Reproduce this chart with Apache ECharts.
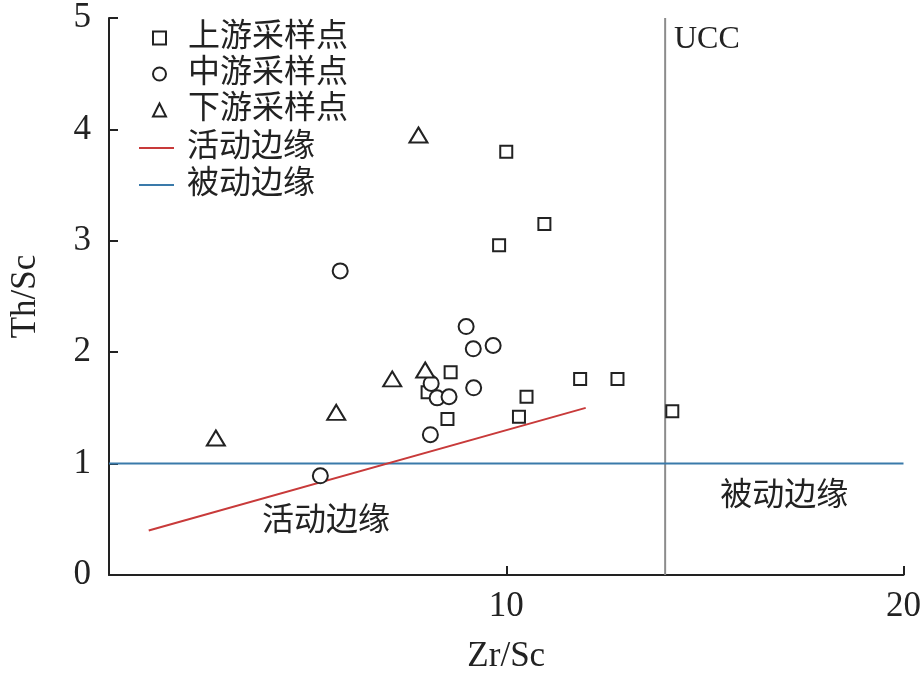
<!DOCTYPE html>
<html>
<head>
<meta charset="utf-8">
<script src="https://cdn.jsdelivr.net/npm/echarts@6/dist/echarts.min.js"></script>
<style>
  html, body { margin: 0; padding: 0; background: #fff; }
  #chart { width: 924px; height: 681px; }
</style>
</head>
<body>
<div id="chart"></div>
<script>
// 采样点数据 [Zr/Sc, Th/Sc]
const upstream = [
  [10.0, 3.80], [10.96, 3.15], [9.82, 2.96], [8.6, 1.82], [8.02, 1.64],
  [10.51, 1.60], [8.52, 1.40], [10.32, 1.42], [11.86, 1.76], [12.8, 1.76], [14.18, 1.47]
];
const midstream = [
  [5.82, 2.73], [8.99, 2.23], [9.17, 2.03], [9.67, 2.06], [8.11, 1.72],
  [8.26, 1.59], [8.56, 1.60], [9.18, 1.68], [8.09, 1.26], [5.32, 0.89]
];
const downstream = [
  [7.79, 3.95], [7.13, 1.76], [7.96, 1.84], [5.72, 1.46], [2.69, 1.23]
];
// 判别线
const activeLine = [[1, 0.4], [12, 1.5]];
const passiveLine = [[0, 1], [20, 1]];
const uccLine = [[14, 0], [14, 5]];
// 图中文字标注
const notes = [
  { name: "UCC", value: [15.05, 4.81] },
  { name: "活动边缘", value: [5.46, 0.48] },
  { name: "被动边缘", value: [17.0, 0.70] }
];
const pointNames = ["上游采样点", "中游采样点", "下游采样点"];
const lineNames = ["活动边缘", "被动边缘"];

const font = "'Liberation Serif', 'Noto Sans CJK SC', serif";
const ink = "#222";

const chart = echarts.init(document.getElementById("chart"));

const scatterStyle = {
  color: "#fff",
  borderColor: ink,
  borderWidth: 2,
  opacity: 1,
};

const legendText = {
  fontFamily: font,
  fontSize: 32,
  color: ink,
};

const option = {
  animation: false,
  grid: { left: 107, right: 17, top: 18, bottom: 106, containLabel: false },
  legend: [
    {
      // 采样点图例
      data: pointNames,
      orient: "vertical",
      left: 152,
      top: 22,
      padding: 0,
      itemGap: 4,
      itemWidth: 13,
      itemHeight: 13,
      itemStyle: { borderWidth: 2, opacity: 1 },
      textStyle: Object.assign({ padding: [0, 0, 0, 17] }, legendText),
    },
    {
      // 判别线图例
      data: lineNames.map((n) => ({ name: n, icon: "rect" })),
      orient: "vertical",
      left: 139,
      top: 132,
      padding: 0,
      itemGap: 5,
      itemWidth: 35,
      itemHeight: 2,
      textStyle: Object.assign({ padding: [0, 0, 0, 8] }, legendText),
    },
  ],
  xAxis: {
    type: "value",
    min: 0,
    max: 20,
    interval: 10,
    name: "Zr/Sc",
    nameLocation: "middle",
    nameGap: 64,
    nameTextStyle: { fontFamily: font, fontSize: 35, color: ink },
    axisLine: { lineStyle: { color: ink, width: 2 } },
    axisTick: { inside: true, length: 9, lineStyle: { color: ink, width: 2 } },
    axisLabel: {
      fontFamily: font,
      fontSize: 35,
      color: ink,
      margin: 14,
      formatter: (v) => (v === 0 ? "" : v),
    },
    splitLine: { show: false },
  },
  yAxis: {
    type: "value",
    min: 0,
    max: 5,
    interval: 1,
    name: "Th/Sc",
    nameLocation: "middle",
    nameGap: 66,
    nameTextStyle: { fontFamily: font, fontSize: 35, color: ink },
    axisLine: { show: true, lineStyle: { color: ink, width: 2 } },
    axisTick: { show: true, inside: true, length: 9, lineStyle: { color: ink, width: 2 } },
    axisLabel: { fontFamily: font, fontSize: 35, color: ink, margin: 18 },
    splitLine: { show: false },
  },
  series: [
    {
      name: "UCC",
      type: "line",
      data: uccLine,
      symbol: "none",
      lineStyle: { color: "#8c8c8c", width: 2 },
      z: 1,
    },
    {
      name: "被动边缘",
      type: "line",
      data: passiveLine,
      symbol: "none",
      color: "#3a7aaa",
      lineStyle: { color: "#3a7aaa", width: 2 },
      z: 1,
    },
    {
      name: "活动边缘",
      type: "line",
      data: activeLine,
      symbol: "none",
      color: "#c83a3a",
      lineStyle: { color: "#c83a3a", width: 2 },
      z: 1,
    },
    {
      name: "上游采样点",
      type: "scatter",
      symbol: "rect",
      symbolSize: 12,
      itemStyle: scatterStyle,
      data: upstream,
      z: 3,
    },
    {
      name: "中游采样点",
      type: "scatter",
      symbol: "circle",
      symbolSize: 15,
      itemStyle: scatterStyle,
      data: midstream,
      z: 4,
    },
    {
      name: "下游采样点",
      type: "scatter",
      symbol: "triangle",
      symbolSize: [18, 15],
      itemStyle: scatterStyle,
      data: downstream,
      z: 5,
    },
    {
      name: "notes",
      type: "scatter",
      symbolSize: 1,
      itemStyle: { color: "transparent", opacity: 1 },
      label: {
        show: true,
        position: "inside",
        formatter: (p) => p.name,
        fontFamily: font,
        fontSize: 32,
        color: ink,
      },
      data: notes,
      z: 6,
    },
  ],
};

chart.setOption(option);
</script>
</body>
</html>
